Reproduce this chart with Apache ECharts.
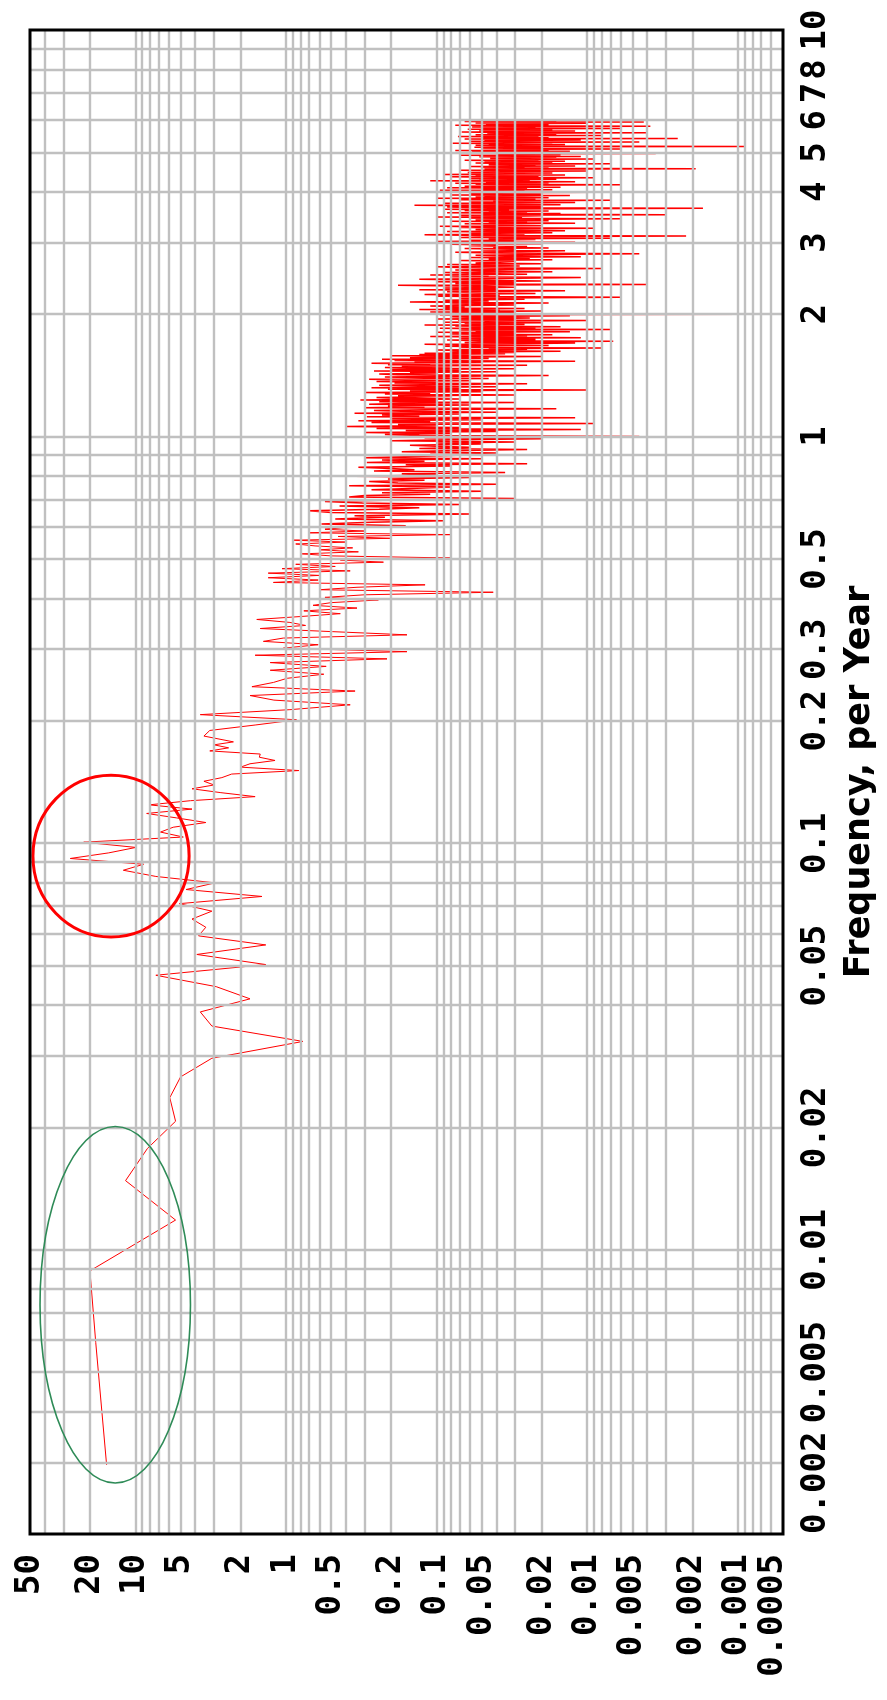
<!DOCTYPE html>
<html>
<head>
<meta charset="utf-8">
<script src="https://cdn.jsdelivr.net/npm/echarts@6/dist/echarts.min.js"></script>
<style>
  html, body { margin: 0; padding: 0; background: #ffffff; }
  #chart { width: 887px; height: 1700px; }
</style>
</head>
<body>
<div id="chart"></div>
<script>
// Periodogram of a monthly series: harmonic k sits at frequency k / RECORD_YEARS per year.
const RECORD_YEARS = 338;

// Power at harmonics k = 1..60
const powerLow = [
  15.5, 18.3, 20, 5.4, 11.6, 8.3, 5.4, 5.9, 5.0, 3.1,
  0.77, 3.1, 3.7, 1.73, 2.9, 7.3, 1.36, 3.9, 1.36, 3.8,
  3.4, 4.2, 3.1, 5.1, 1.44, 4.6, 2.95, 7.3, 12, 8.8,
  27, 15, 9.9, 22, 4.8, 6.8, 5.6, 3.4, 5.3, 8.4,
  4.2, 8.1, 4.3, 1.6, 2.7, 4.2, 3.0, 3.5, 2.66, 2.29,
  0.82, 2.0, 1.73, 1.18, 1.5, 1.48, 3.2, 2.4, 3.0, 2.23
];

// Power at harmonics k = 62..200, every second harmonic
const powerMid = [
  3.5, 3.2, 1.6, 0.85, 3.7, 0.94, 0.374, 1.2, 1.73, 0.347,
  1.68, 1.21, 0.98, 0.56, 1.27, 0.54, 1.27, 0.213, 1.6, 0.157,
  1.04, 0.61, 1.41, 1.04, 0.157, 0.49, 1.48, 0.74, 0.94, 1.56,
  0.8, 0.435, 0.76, 0.337, 0.66, 0.5, 0.243, 0.55, 0.3, 0.042,
  0.6, 0.337, 0.119, 1.21, 0.61, 1.31, 0.6, 1.31, 0.374, 1.06,
  0.47, 0.86, 0.225, 0.435, 0.081, 0.5, 0.78, 0.33, 0.6, 0.36,
  0.64, 0.86, 0.4, 0.89, 0.2, 0.45, 0.081, 0.7, 0.3, 0.55
];

// Power at harmonics k = 202..700, every second harmonic
const powerHigh1 = [
  .42, .16, .58, .27, .09, .47, .22, .35, .06, .5,
  .7, .24, .13, .44, .07, .31, .55, .19, .03, .38,
  .3, .11, .23, .05, .27, .15, .08, .38, .04, .18,
  .28, .12, .21, .06, .35, .1, .17, .035, .26, .14,
  .2, .33, .08, .16, .025, .29, .12, .23, .05, .3,
  .14, .07, .11, .04, .17, .09, .025, .13, .06, .1,
  .15, .05, .1, .03, .2, .08, .02, .12, .0045, .13,
  .22, .08, .3, .04, .16, .011, .25, .07, .4, .1,
  .18, .009, .27, .11, .33, .05, .2, .012, .29, .13,
  .23, .07, .35, .04, .17, .26, .09, .016, .3, .12,
  .21, .06, .28, .15, .03, .24, .1, .32, .07, .19,
  .25, .08, .18, .03, .22, .11, .3, .05, .15, .01,
  .21, .07, .27, .04, .13, .24, .09, .025, .19, .1,
  .25, .06, .16, .28, .045, .12, .22, .07, .018, .18,
  .24, .1, .15, .04, .26, .07, .2, .03, .13, .22,
  .08, .17, .025, .21, .11, .27, .05, .14, .012, .19,
  .09, .23, .045, .15, .1, .02, .2, .06, .13, .035,
  .12, .03, .08, .015, .06, .1, .025, .045, .008, .07,
  .04, .09, .018, .055, .12, .03, .012, .065, .035, .0067,
  .05, .085, .022, .035, .07, .011, .045, .11, .025, .06,
  .017, .08, .04, .03, .1, .013, .055, .032, .07, .007,
  .042, .095, .022, .06, .015, .075, .038, .12, .026, .05,
  .065, .02, .09, .034, .048, .01, .072, .03, .1, .04,
  .024, .06, .08, .033, .013, .055, .095, .00085, .04, .07,
  .03, .11, .05, .02, .08, .038, .13, .055, .026, .09
];

// Power at harmonics k = 704..1224, every fourth harmonic
const powerHigh2 = [
  .065, .11, .03, .08, .018, .15, .045, .09, .026, .07, .006,
  .1, .038, .12, .022, .058, .085, .014, .13, .04, .09, .03,
  .055, .18, .004, .075, .03, .1, .02, .06, .13, .04,
  .011, .08, .045, .11, .025, .06, .09, .017, .05, .075,
  .033, .008, .065, .1, .028, .048, .085, .02, .055, .038,
  .03, .07, .017, .045, .024, .06, .011, .035, .055, .02, .0045,
  .04, .075, .027, .014, .05, .03, .065, .018, .042, .025, .06,
  .04, .08, .02, .05, .012, .1, .03, .06, .022, .045,
  .007, .07, .035, .0022, .05, .12, .026, .06, .017, .04,
  .085, .014, .032, .055, .024, .009, .07, .04, .095, .02,
  .05, .03, .065, .012, .045, .025, .08, .018, .055, .035,
  .006, .06, .027, .1, .04, .02, .07, .003, .05, .015,
  .085, .025, .045, .018, .065, .033, .09
];

// Power at harmonics k = 1232..2028, every fourth harmonic
const powerHigh3 = [
  .0017, .045, .085, .02, .03, .14, .015, .05, .033, .09,
  .012, .06, .025, .042, .007, .07, .022, .038, .1, .018,
  .055, .03, .048, .013, .08, .035, .02, .06, .04, .009,
  .07, .026, .05, .095, .017, .04,
  .05, .025, .085, .015, .042, .065, .02, .033, .006, .055,
  .028, .075, .018, .047, .012, .038, .11, .024, .052, .016,
  .06, .03, .009, .04, .08, .021, .03, .055, .014, .09,
  .035, .045, .017, .062, .025, .05, .01, .036, .07, .02,
  .048, .0019,
  .035, .018, .05, .026, .06, .012, .04, .022, .045, .03,
  .007, .034, .055, .017, .027, .048, .014, .036, .065, .021,
  .031, .009, .044, .025, .04, .016, .052, .011, .033, .028,
  .07, .015, .04, .03, .0035, .046, .02, .035, .058, .013,
  .03, .075, .018, .04, .026, .006, .05, .034, .02, .056,
  .03, .00089,
  .033, .02, .055, .03, .014, .045, .024, .078, .017, .04,
  .0045, .035, .06, .02, .03, .011, .048, .026, .065, .0025,
  .036, .018, .05, .028, .072, .021, .042, .008, .033, .055,
  .025, .016, .046, .03, .004, .04, .068, .02, .035, .012,
  .052, .027, .044, .017, .062, .03, .006, .05, .036, .022,
  .058, .026, .0038, .04, .032, .075, .018, .047, .024, .038,
  .01, .055, .03, .042, .0042, .065, .023, .05, .016, .035
];

// Tick labels
const powerTickLabels = [50, 20, 10, 5, 2, 1, 0.5, 0.2, 0.1, 0.05, 0.02, 0.01, 0.005, 0.002, 0.001, 0.0005];
const freqTickLabels = [0.002, 0.005, 0.01, 0.02, 0.05, 0.1, 0.2, 0.3, 0.5, 1, 2, 3, 4, 5, 6, 7, 8, 10];

// Axis extents
const POWER_MIN = 0.0005, POWER_MAX = 50;
const FREQ_MIN = 0.002, FREQ_MAX = 10;

// Highlight ellipses, given by their extents in data units
const lowFreqEllipse = { power: [42.9, 4.3], freq: [0.00267, 0.0201] };
const decadalCircle = { power: [47.8, 4.39], freq: [0.0588, 0.147] };

const bands = [
  { start: 1, step: 1, values: powerLow },
  { start: 62, step: 2, values: powerMid },
  { start: 202, step: 2, values: powerHigh1 },
  { start: 704, step: 4, values: powerHigh2 },
  { start: 1232, step: 4, values: powerHigh3 }
];

const points = [];
bands.forEach(function (b) {
  b.values.forEach(function (p, i) {
    points.push([p, (b.start + i * b.step) / RECORD_YEARS]);
  });
});
points.sort(function (a, b) { return a[1] - b[1]; });

// The sparse low-frequency run is stroked thinner than the crowded high-frequency run;
// both share the point at harmonic 200 so the trace stays continuous.
const SPLIT_FREQ = 200 / RECORD_YEARS;
const lowRun = points.filter(function (p) { return p[1] <= SPLIT_FREQ + 1e-9; });
const highRun = points.filter(function (p) { return p[1] >= SPLIT_FREQ - 1e-9; });

// Gridlines at 1..9 x 10^n strictly inside an extent
function logGridValues(lo, hi) {
  const out = [];
  for (let e = -5; e <= 3; e++) {
    for (let m = 1; m <= 9; m++) {
      const v = +(m * Math.pow(10, e)).toPrecision(6);
      if (v > lo * 1.0001 && v < hi * 0.9999) out.push(v);
    }
  }
  return out;
}
const powerGrid = logGridValues(POWER_MIN, POWER_MAX);
const freqGrid = logGridValues(FREQ_MIN, FREQ_MAX);

const chart = echarts.init(document.getElementById('chart'), null, { renderer: 'canvas' });

const option = {
  animation: false,
  backgroundColor: '#ffffff',
  grid: { left: 30, right: 104, top: 30, bottom: 166, show: false },
  xAxis: {
    type: 'log', logBase: 10, min: POWER_MIN, max: POWER_MAX, inverse: true,
    axisLine: { show: false }, axisTick: { show: false },
    axisLabel: { show: false }, splitLine: { show: false }
  },
  yAxis: {
    type: 'log', logBase: 10, min: FREQ_MIN, max: FREQ_MAX, position: 'right',
    axisLine: { show: false }, axisTick: { show: false },
    axisLabel: { show: false }, splitLine: { show: false },
    name: 'Frequency, per Year',
    nameLocation: 'middle', nameRotate: 90, nameGap: 59,
    nameTextStyle: {
      fontFamily: 'DejaVu Sans', fontWeight: 'bold', fontSize: 35, color: '#000000',
      align: 'center', verticalAlign: 'top'
    }
  },
  series: [
    {
      type: 'line', name: 'grid', data: [], silent: true, z: 1,
      markLine: {
        silent: true, symbol: ['none', 'none'], animation: false, precision: 10,
        label: { show: false },
        lineStyle: { color: '#c0c0c0', width: 2.4, type: 'solid' },
        emphasis: { disabled: true },
        data: powerGrid.map(function (v) { return { xAxis: v }; })
          .concat(freqGrid.map(function (v) { return { yAxis: v }; }))
      }
    },
    {
      type: 'line', name: 'Power', data: lowRun, z: 3, silent: true,
      showSymbol: false, symbol: 'none',
      lineStyle: { color: '#ff0000', width: 1 },
      itemStyle: { color: '#ff0000' }
    },
    {
      type: 'line', name: 'Power', data: highRun, z: 3, silent: true,
      showSymbol: false, symbol: 'none',
      lineStyle: { color: '#ff0000', width: 1.5 },
      itemStyle: { color: '#ff0000' }
    }
  ]
};
chart.setOption(option);

// Tick labels, frame and highlight ellipses positioned through the grid's scales
const toPx = function (p, f) { return chart.convertToPixel({ gridIndex: 0 }, [p, f]); };
const topLeft = toPx(POWER_MAX, FREQ_MAX);
const bottomRight = toPx(POWER_MIN, FREQ_MIN);
const xLeft = topLeft[0], yTop = topLeft[1], xRight = bottomRight[0], yBottom = bottomRight[1];

const labelFont = { fontFamily: 'DejaVu Sans Mono', fontWeight: 'bold', fontSize: 34, fill: '#000000' };
const elements = [];

powerTickLabels.forEach(function (v) {
  const px = toPx(v, FREQ_MIN)[0];
  // the last label is pulled inside so it ends at the frame
  const shift = v === POWER_MIN ? -10 : 0;
  elements.push({
    type: 'text', x: px + shift, y: yBottom + 20, rotation: Math.PI / 2, silent: true, z: 30,
    style: Object.assign({}, labelFont, {
      text: String(v), align: 'right', verticalAlign: 'middle'
    })
  });
});

freqTickLabels.forEach(function (v) {
  const py = toPx(POWER_MIN, v)[1];
  elements.push({
    type: 'text', x: xRight + 16, y: py, rotation: Math.PI / 2, silent: true, z: 30,
    style: Object.assign({}, labelFont, {
      text: String(v), align: v === FREQ_MIN ? 'left' : 'center', verticalAlign: 'top'
    })
  });
});

function ellipseFrom(e, stroke, width) {
  const a = toPx(e.power[0], e.freq[0]);
  const b = toPx(e.power[1], e.freq[1]);
  return {
    type: 'ellipse', silent: true, z: 25,
    shape: {
      cx: (a[0] + b[0]) / 2, cy: (a[1] + b[1]) / 2,
      rx: Math.abs(b[0] - a[0]) / 2, ry: Math.abs(b[1] - a[1]) / 2
    },
    style: { fill: 'none', stroke: stroke, lineWidth: width }
  };
}
elements.push(ellipseFrom(lowFreqEllipse, '#2e8b57', 1.6));
elements.push(ellipseFrom(decadalCircle, '#ff0000', 3));

elements.push({
  type: 'rect', silent: true, z: 40,
  shape: { x: xLeft, y: yTop, width: xRight - xLeft, height: yBottom - yTop },
  style: { fill: 'none', stroke: '#000000', lineWidth: 3 }
});

chart.setOption({ graphic: { elements: elements } });
</script>
</body>
</html>
